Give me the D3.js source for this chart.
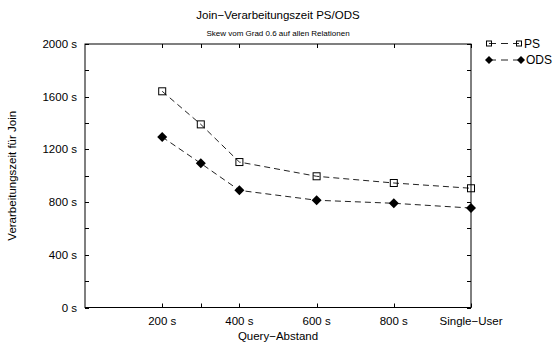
<!DOCTYPE html>
<html><head><meta charset="utf-8">
<script src="https://cdn.jsdelivr.net/npm/d3@7"></script>
<style>body{margin:0;background:#fff}svg{display:block}text{font-family:"Liberation Sans",Arial,sans-serif;fill:#000}</style>
</head><body>
<script>
const xValues = [200, 300, 400, 600, 800, 1000];
const psValues = [1641, 1390, 1104, 996, 945, 905];
const odsValues = [1294, 1094, 889, 814, 791, 755];
const xTickValues = [200, 300, 400, 600, 800, 1000];
const xTickLabels = {200: "200 s", 400: "400 s", 600: "600 s", 800: "800 s", 1000: "Single\u2212User"};
const yMajorTicks = [0, 400, 800, 1200, 1600, 2000];
const yMinorTicks = [200, 600, 1000, 1400, 1800];
const seriesNames = ["PS", "ODS"];

const W = 560, H = 345;
const L = 85, R = 471, T = 44, B = 307.5;
const svg = d3.select("body").append("svg").attr("width", W).attr("height", H);
const x = d3.scaleLinear().domain([0, 1000]).range([L, R]);
const y = d3.scaleLinear().domain([0, 2000]).range([B, T]);

const tl = 4;
svg.append("rect").attr("x", L).attr("y", T).attr("width", R - L).attr("height", B - T)
  .attr("fill", "none").attr("stroke", "#000").attr("stroke-width", 1);

const g = svg.append("g").attr("stroke", "#000").attr("stroke-width", 1);
[...yMajorTicks, ...yMinorTicks].forEach(v => {
  const yy = Math.round(y(v)) + 0.5;
  g.append("line").attr("x1", L).attr("x2", L + tl).attr("y1", yy).attr("y2", yy);
  g.append("line").attr("x1", R).attr("x2", R - tl).attr("y1", yy).attr("y2", yy);
});
xTickValues.forEach(v => {
  const xx = Math.round(x(v)) + 0.5;
  g.append("line").attr("x1", xx).attr("x2", xx).attr("y1", B).attr("y2", B - tl);
  g.append("line").attr("x1", xx).attr("x2", xx).attr("y1", T).attr("y2", T + tl);
});
yMajorTicks.forEach(v => {
  svg.append("text").attr("x", L - 8).attr("y", y(v) + 4).attr("text-anchor", "end")
    .attr("font-size", 11.5).text(v + " s");
});
xTickValues.forEach(v => {
  if (xTickLabels[v]) svg.append("text").attr("x", x(v)).attr("y", B + 17).attr("text-anchor", "middle")
    .attr("font-size", 11.5).text(xTickLabels[v]);
});
svg.append("text").attr("x", (L + R) / 2).attr("y", 19).attr("text-anchor", "middle").attr("font-size", 11.5)
  .text("Join\u2212Verarbeitungszeit PS/ODS");
svg.append("text").attr("x", (L + R) / 2).attr("y", 36).attr("text-anchor", "middle").attr("font-size", 8)
  .text("Skew vom Grad 0.6 auf allen Relationen");
svg.append("text").attr("x", (L + R) / 2).attr("y", 340).attr("text-anchor", "middle").attr("font-size", 11.5)
  .text("Query\u2212Abstand");
svg.append("text").attr("transform", `translate(16,${(T + B) / 2}) rotate(-90)`).attr("text-anchor", "middle")
  .attr("font-size", 11.5).text("Verarbeitungszeit f\u00fcr Join");

const line = d3.line().x(d => x(d[0])).y(d => y(d[1]));
const series = [psValues, odsValues];
function square(sel, cx, cy, s) {
  sel.append("rect").attr("x", cx - s / 2).attr("y", cy - s / 2).attr("width", s).attr("height", s)
    .attr("fill", "none").attr("stroke", "#000").attr("stroke-width", 1);
}
function diamond(sel, cx, cy, d) {
  sel.append("path").attr("d", `M${cx},${cy - d}L${cx + d},${cy}L${cx},${cy + d}L${cx - d},${cy}Z`)
    .attr("fill", "#000");
}
series.forEach((vals, i) => {
  const pts = xValues.map((xv, j) => [xv, vals[j]]);
  svg.append("path").attr("d", line(pts)).attr("fill", "none").attr("stroke", "#222")
    .attr("stroke-width", 1).attr("stroke-dasharray", "6,4");
  pts.forEach(p => i === 0 ? square(svg, x(p[0]), y(p[1]), 7) : diamond(svg, x(p[0]), y(p[1]), 5));
});
// legend
seriesNames.forEach((name, i) => {
  const ly = i === 0 ? 43.5 : 60, x1 = 489, x2 = i === 0 ? 519 : 521;
  svg.append("line").attr("x1", x1).attr("x2", x2).attr("y1", ly).attr("y2", ly)
    .attr("stroke", "#222").attr("stroke-width", 1).attr("stroke-dasharray", "7,5");
  if (i === 0) { square(svg, x1, ly, 5); square(svg, x2, ly, 5); }
  else { diamond(svg, x1, ly, 4); diamond(svg, x2, ly, 4); }
  svg.append("text").attr("x", x2 + 5).attr("y", ly + 4).attr("font-size", 12).text(name);
});
</script>
</body></html>
